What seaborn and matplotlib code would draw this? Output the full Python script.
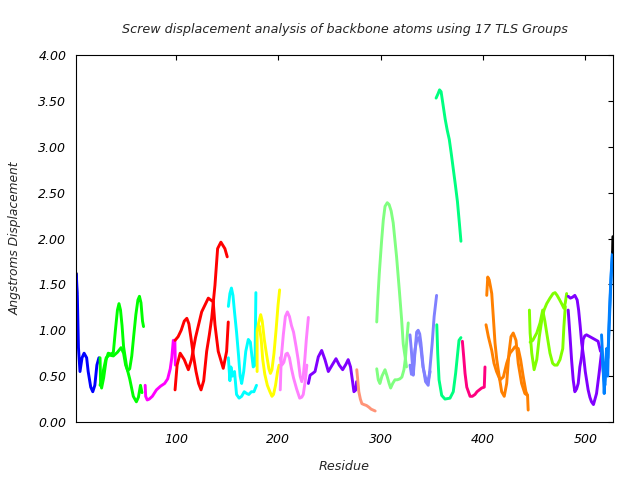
import matplotlib
matplotlib.use("Agg")
import matplotlib.pyplot as plt
import seaborn as sns
import pandas as pd

# ---------------- data (residue, displacement) ----------------
black1_res = [2.5, 3.0]
black1_val = [1.62, 1.40]

blue1_res = [2.6, 3.6, 4.2, 4.7, 6.2, 8.2, 10.2, 12.7, 14.2, 16.7, 18.7, 20.7, 22.7, 24.7]
blue1_val = [1.61, 1.38, 1.06, 0.81, 0.55, 0.70, 0.75, 0.70, 0.55, 0.38, 0.33, 0.40, 0.62, 0.70]

green_a_res = [25.8, 26.3, 27.3, 29.3, 31.8, 33.8, 36.8, 38.8, 40.8, 42.8, 44.3, 45.8, 47.3, 48.8, 51.8, 54.8, 58.3, 61.3, 63.3, 65.3, 66.8]
green_a_val = [0.70, 0.45, 0.37, 0.48, 0.68, 0.75, 0.74, 0.76, 1.00, 1.22, 1.29, 1.22, 1.05, 0.82, 0.60, 0.47, 0.28, 0.22, 0.27, 0.40, 0.32]
green_b_res = [25.8, 28.8, 31.8, 34.8, 38.8, 42.8, 46.3, 48.8, 50.8, 52.8, 54.8, 56.8, 58.8, 60.8, 62.8, 64.3, 65.8, 67.3, 68.3]
green_b_val = [0.40, 0.55, 0.70, 0.73, 0.72, 0.76, 0.81, 0.75, 0.62, 0.56, 0.58, 0.72, 0.95, 1.17, 1.33, 1.37, 1.30, 1.10, 1.04]

magenta_res = [69.9, 70.4, 71.9, 73.9, 76.9, 80.9, 84.9, 88.9, 91.9, 94.4, 95.9, 97.4, 98.9, 99.4]
magenta_val = [0.40, 0.28, 0.24, 0.25, 0.28, 0.35, 0.39, 0.42, 0.47, 0.58, 0.70, 0.89, 0.89, 0.62]

red_a_res = [99.1, 102.1, 105.1, 108.1, 110.6, 112.6, 114.6, 117.1, 119.6, 122.1, 124.5, 127.1, 130.0, 132.6, 134.9, 138.1, 140.7, 143.9, 147.8, 150.1]
red_a_val = [0.89, 0.93, 1.00, 1.10, 1.13, 1.07, 0.92, 0.72, 0.55, 0.42, 0.35, 0.45, 0.77, 0.95, 1.13, 1.49, 1.89, 1.96, 1.89, 1.80]
red_b_res = [99.1, 101.1, 104.1, 108.1, 112.1, 115.1, 119.1, 125.1, 131.6, 136.4, 138.1, 141.3, 146.2, 149.5, 151.1]
red_b_val = [0.35, 0.62, 0.75, 0.68, 0.57, 0.68, 0.92, 1.20, 1.35, 1.31, 1.06, 0.77, 0.585, 0.77, 1.09]

cyan_a_res = [151.2, 152.7, 154.2, 155.7, 157.2, 159.2, 161.2, 162.7, 164.2, 166.2, 168.2, 170.7, 172.7, 174.2, 175.5, 177.2, 178.1]
cyan_a_val = [1.26, 1.40, 1.46, 1.38, 1.20, 0.98, 0.72, 0.50, 0.42, 0.55, 0.77, 0.90, 0.87, 0.72, 0.60, 0.62, 1.41]
cyan_b_res = [151.2, 152.7, 153.7, 155.2, 157.2, 159.2, 161.7, 164.2, 166.7, 169.2, 171.2, 173.7, 176.2, 178.7]
cyan_b_val = [0.70, 0.45, 0.60, 0.50, 0.55, 0.30, 0.26, 0.28, 0.33, 0.31, 0.30, 0.33, 0.33, 0.40]

yellow_a_res = [179.3, 179.3, 180.8, 182.8, 184.3, 186.3, 188.3, 190.8, 192.3, 193.8, 195.8, 197.8, 199.8, 201.3]
yellow_a_val = [0.55, 0.98, 1.08, 1.17, 1.10, 0.90, 0.75, 0.58, 0.53, 0.57, 0.75, 1.00, 1.28, 1.44]
yellow_b_res = [179.3, 181.3, 183.3, 184.8, 186.8, 189.3, 191.8, 193.8, 195.3, 197.3, 199.3, 200.8]
yellow_b_val = [1.00, 1.05, 0.90, 0.68, 0.52, 0.40, 0.33, 0.28, 0.30, 0.40, 0.55, 0.62]

pink_a_res = [201.9, 202.9, 204.9, 206.9, 208.9, 210.9, 212.9, 214.9, 217.4, 219.4, 221.4, 222.9, 224.4, 225.9, 227.4, 229.4]
pink_a_val = [0.35, 0.70, 0.95, 1.15, 1.20, 1.15, 1.05, 0.98, 0.82, 0.68, 0.50, 0.44, 0.50, 0.68, 0.90, 1.14]
pink_b_res = [201.9, 203.4, 205.4, 207.4, 208.9, 210.9, 212.9, 214.9, 217.9, 220.9, 222.9, 224.4, 226.4, 227.9]
pink_b_val = [0.70, 0.62, 0.65, 0.74, 0.75, 0.70, 0.58, 0.48, 0.36, 0.26, 0.27, 0.30, 0.45, 0.62]

purple1_res = [229.4, 231.1, 233.6, 235.9, 239.1, 242.4, 245.6, 248.9, 252.6, 256.4, 259.6, 262.9, 266.1, 268.3, 270.6, 272.6, 273.9, 275.8, 276.5]
purple1_val = [0.42, 0.51, 0.53, 0.55, 0.71, 0.78, 0.68, 0.55, 0.62, 0.69, 0.62, 0.57, 0.63, 0.68, 0.60, 0.44, 0.33, 0.35, 0.44]

salmon_res = [276.7, 277.7, 278.7, 280.2, 281.7, 283.7, 286.2, 288.7, 290.7, 292.7, 294.7]
salmon_val = [0.57, 0.45, 0.33, 0.25, 0.20, 0.19, 0.18, 0.16, 0.14, 0.13, 0.12]

lgreen_a_res = [296.2, 297.3, 298.7, 301.0, 302.6, 304.3, 306.5, 308.3, 310.3, 312.3, 315.6, 318.4, 320.5, 322.1, 323.8, 325.3]
lgreen_a_val = [1.09, 1.35, 1.62, 1.98, 2.20, 2.35, 2.39, 2.37, 2.30, 2.17, 1.80, 1.42, 1.12, 0.85, 0.72, 0.60]
lgreen_b_res = [296.2, 297.7, 299.3, 301.3, 304.3, 306.3, 308.3, 309.8, 311.8, 314.0, 316.3, 318.8, 320.8, 322.8, 324.3, 325.3, 327.0]
lgreen_b_val = [0.58, 0.46, 0.42, 0.50, 0.57, 0.50, 0.42, 0.37, 0.42, 0.46, 0.46, 0.47, 0.49, 0.57, 0.70, 0.85, 1.08]

peri_a_res = [328.7, 329.9, 330.9, 331.9, 333.5, 335.2, 336.7, 338.2, 339.4, 341.6, 343.9, 346.5, 348.1, 350.4, 352.3, 354.7]
peri_a_val = [0.95, 0.80, 0.65, 0.51, 0.75, 0.98, 1.00, 0.96, 0.86, 0.60, 0.44, 0.40, 0.57, 0.86, 1.15, 1.38]
peri_b_res = [328.7, 330.1, 331.9, 333.5, 335.4, 337.4, 339.4, 341.4, 343.9, 346.5, 348.4]
peri_b_val = [0.62, 0.52, 0.56, 0.78, 0.90, 0.92, 0.80, 0.60, 0.48, 0.45, 0.55]

spring_a_res = [354.2, 356.2, 357.6, 359.1, 361.1, 363.1, 365.1, 367.1, 369.1, 371.1, 373.1, 375.1, 377.1, 378.5]
spring_a_val = [3.53, 3.58, 3.62, 3.60, 3.45, 3.30, 3.18, 3.08, 2.92, 2.75, 2.58, 2.40, 2.15, 1.97]
spring_b_res = [354.9, 355.8, 357.1, 359.7, 362.9, 367.8, 371.0, 373.3, 375.3, 376.6, 378.5]
spring_b_val = [1.06, 0.75, 0.46, 0.29, 0.25, 0.26, 0.33, 0.53, 0.75, 0.89, 0.92]

deeppink_res = [379.9, 381.2, 382.5, 384.2, 387.4, 389.6, 392.2, 394.2, 398.7, 401.3, 402.0]
deeppink_val = [0.88, 0.71, 0.53, 0.38, 0.28, 0.28, 0.30, 0.33, 0.37, 0.38, 0.60]

orange_a_res = [403.7, 404.7, 406.1, 407.3, 408.6, 410.1, 411.8, 413.5, 416.0, 418.3, 420.8, 423.2, 425.4, 427.4, 429.6, 432.3, 434.5, 437.8, 441.0, 443.6, 444.2]
orange_a_val = [1.38, 1.58, 1.55, 1.48, 1.40, 1.15, 0.86, 0.68, 0.49, 0.33, 0.28, 0.42, 0.75, 0.93, 0.97, 0.89, 0.64, 0.42, 0.31, 0.29, 0.13]
orange_b_res = [403.0, 405.3, 408.6, 410.8, 413.3, 416.7, 419.9, 423.2, 426.4, 429.3, 431.3, 434.5, 436.8, 439.3, 442.0, 443.6]
orange_b_val = [1.06, 0.93, 0.78, 0.64, 0.55, 0.46, 0.49, 0.64, 0.75, 0.79, 0.82, 0.80, 0.68, 0.50, 0.33, 0.29]

chart_a_res = [445.4, 446.1, 447.7, 450.0, 452.6, 455.1, 457.5, 459.7, 462.3, 465.5, 468.5, 470.5, 472.5, 475.0, 476.9, 479.1, 480.5, 481.8]
chart_a_val = [1.22, 0.97, 0.75, 0.57, 0.68, 0.93, 1.11, 1.22, 1.29, 1.35, 1.40, 1.41, 1.38, 1.33, 1.29, 1.24, 1.30, 1.40]
chart_b_res = [446.1, 448.7, 452.6, 455.8, 458.4, 460.5, 462.9, 465.5, 468.1, 470.0, 472.5, 475.3, 478.0, 479.1, 480.5]
chart_b_val = [0.87, 0.89, 0.97, 1.08, 1.22, 1.10, 0.93, 0.75, 0.64, 0.62, 0.62, 0.68, 0.80, 1.04, 1.26]

purple2_a_res = [483.3, 485.5, 487.5, 489.8, 492.1, 493.5, 495.0, 496.5, 498.5, 500.0, 502.8, 504.5, 506.1, 508.0, 511.0, 513.5, 515.8]
purple2_a_val = [1.37, 1.35, 1.36, 1.38, 1.33, 1.22, 1.05, 0.86, 0.70, 0.55, 0.35, 0.27, 0.22, 0.19, 0.31, 0.53, 0.75]
purple2_b_res = [483.3, 485.0, 486.6, 488.2, 489.8, 491.5, 493.1, 494.7, 496.4, 497.9, 499.6, 501.2, 504.5, 507.7, 512.5, 514.9]
purple2_b_val = [1.22, 0.95, 0.68, 0.46, 0.33, 0.36, 0.42, 0.60, 0.71, 0.90, 0.94, 0.95, 0.93, 0.91, 0.88, 0.77]

blue2_a_res = [515.9, 517.1, 518.5, 519.8, 520.8, 521.9, 522.8, 523.6, 524.7, 525.7, 526.6]
blue2_a_val = [0.95, 0.68, 0.31, 0.60, 0.80, 0.50, 0.95, 1.20, 1.47, 1.70, 1.85]
blue2_b_res = [515.9, 517.6, 519.1, 520.6, 522.1, 523.6, 525.1, 526.6]
blue2_b_val = [0.80, 0.55, 0.40, 0.65, 0.70, 1.10, 1.55, 1.85]

black2_res = [526.7, 527.0]
black2_val = [1.85, 2.02]

y_ticks = [0.0, 0.5, 1.0, 1.5, 2.0, 2.5, 3.0, 3.5, 4.0]
x_ticks = [100, 200, 300, 400, 500]

traces = [
    ("black1", black1_res, black1_val, "#000000"),
    ("blue1", blue1_res, blue1_val, "#0000ff"),
    ("green_a", green_a_res, green_a_val, "#00ff00"),
    ("green_b", green_b_res, green_b_val, "#00ff00"),
    ("magenta", magenta_res, magenta_val, "#ff00ff"),
    ("red_a", red_a_res, red_a_val, "#ff0000"),
    ("red_b", red_b_res, red_b_val, "#ff0000"),
    ("cyan_a", cyan_a_res, cyan_a_val, "#00ffff"),
    ("cyan_b", cyan_b_res, cyan_b_val, "#00ffff"),
    ("yellow_a", yellow_a_res, yellow_a_val, "#ffff00"),
    ("yellow_b", yellow_b_res, yellow_b_val, "#ffff00"),
    ("pink_a", pink_a_res, pink_a_val, "#ff80ff"),
    ("pink_b", pink_b_res, pink_b_val, "#ff80ff"),
    ("purple1", purple1_res, purple1_val, "#8000ff"),
    ("salmon", salmon_res, salmon_val, "#ff9478"),
    ("lgreen_a", lgreen_a_res, lgreen_a_val, "#80ff80"),
    ("lgreen_b", lgreen_b_res, lgreen_b_val, "#80ff80"),
    ("peri_a", peri_a_res, peri_a_val, "#8080ff"),
    ("peri_b", peri_b_res, peri_b_val, "#8080ff"),
    ("spring_a", spring_a_res, spring_a_val, "#00ff80"),
    ("spring_b", spring_b_res, spring_b_val, "#00ff80"),
    ("deeppink", deeppink_res, deeppink_val, "#ff0080"),
    ("orange_a", orange_a_res, orange_a_val, "#ff8000"),
    ("orange_b", orange_b_res, orange_b_val, "#ff8000"),
    ("chart_a", chart_a_res, chart_a_val, "#80ff00"),
    ("chart_b", chart_b_res, chart_b_val, "#80ff00"),
    ("purple2_a", purple2_a_res, purple2_a_val, "#8000ff"),
    ("purple2_b", purple2_b_res, purple2_b_val, "#8000ff"),
    ("blue2_a", blue2_a_res, blue2_a_val, "#0080ff"),
    ("blue2_b", blue2_b_res, blue2_b_val, "#0080ff"),
    ("black2", black2_res, black2_val, "#000000"),
]

rows = []
for name, rs, vs, _c in traces:
    for r, v in zip(rs, vs):
        rows.append({"residue": r, "disp": v, "trace": name})
df = pd.DataFrame(rows)
palette = {name: c for name, _r, _v, c in traces}
order = [t[0] for t in traces]

# ---------------- plot ----------------
sns.set_theme(style="white")
plt.rcParams["font.family"] = ["DejaVu Sans"]
plt.rcParams["font.style"] = "italic"

fig = plt.figure(figsize=(6.4, 4.8), dpi=100)
ax = fig.add_axes([76 / 640, 1 - 422 / 480, (613 - 76) / 640, (422 - 55) / 480])

sns.lineplot(data=df, x="residue", y="disp", hue="trace", hue_order=order,
             palette=palette, sort=False, estimator=None, legend=False,
             linewidth=2.1, ax=ax)

ax.set_xlim(2.3, 527.1)
ax.set_ylim(0, 4)
ax.set_xticks(x_ticks)
ax.set_xticklabels([str(t) for t in x_ticks])
ax.set_yticks(y_ticks)
ax.set_yticklabels([f"{t:.2f}" for t in y_ticks])
ax.tick_params(direction="in", length=3.5, width=0.8, top=True, right=True,
               labelsize=9, colors="black")
ax.tick_params(axis="x", pad=8)
ax.tick_params(axis="y", pad=7)
for s in ax.spines.values():
    s.set_color("black")
    s.set_linewidth(0.8)
ax.grid(False)

ax.set_xlabel("Residue", fontsize=9.2, labelpad=10)
ax.set_ylabel("Angstroms Displacement", fontsize=8.8, labelpad=12)
ax.set_title("Screw displacement analysis of backbone atoms using 17 TLS Groups",
             fontsize=9.2, pad=16)

fig.savefig("out.png", dpi=100, facecolor="white")
